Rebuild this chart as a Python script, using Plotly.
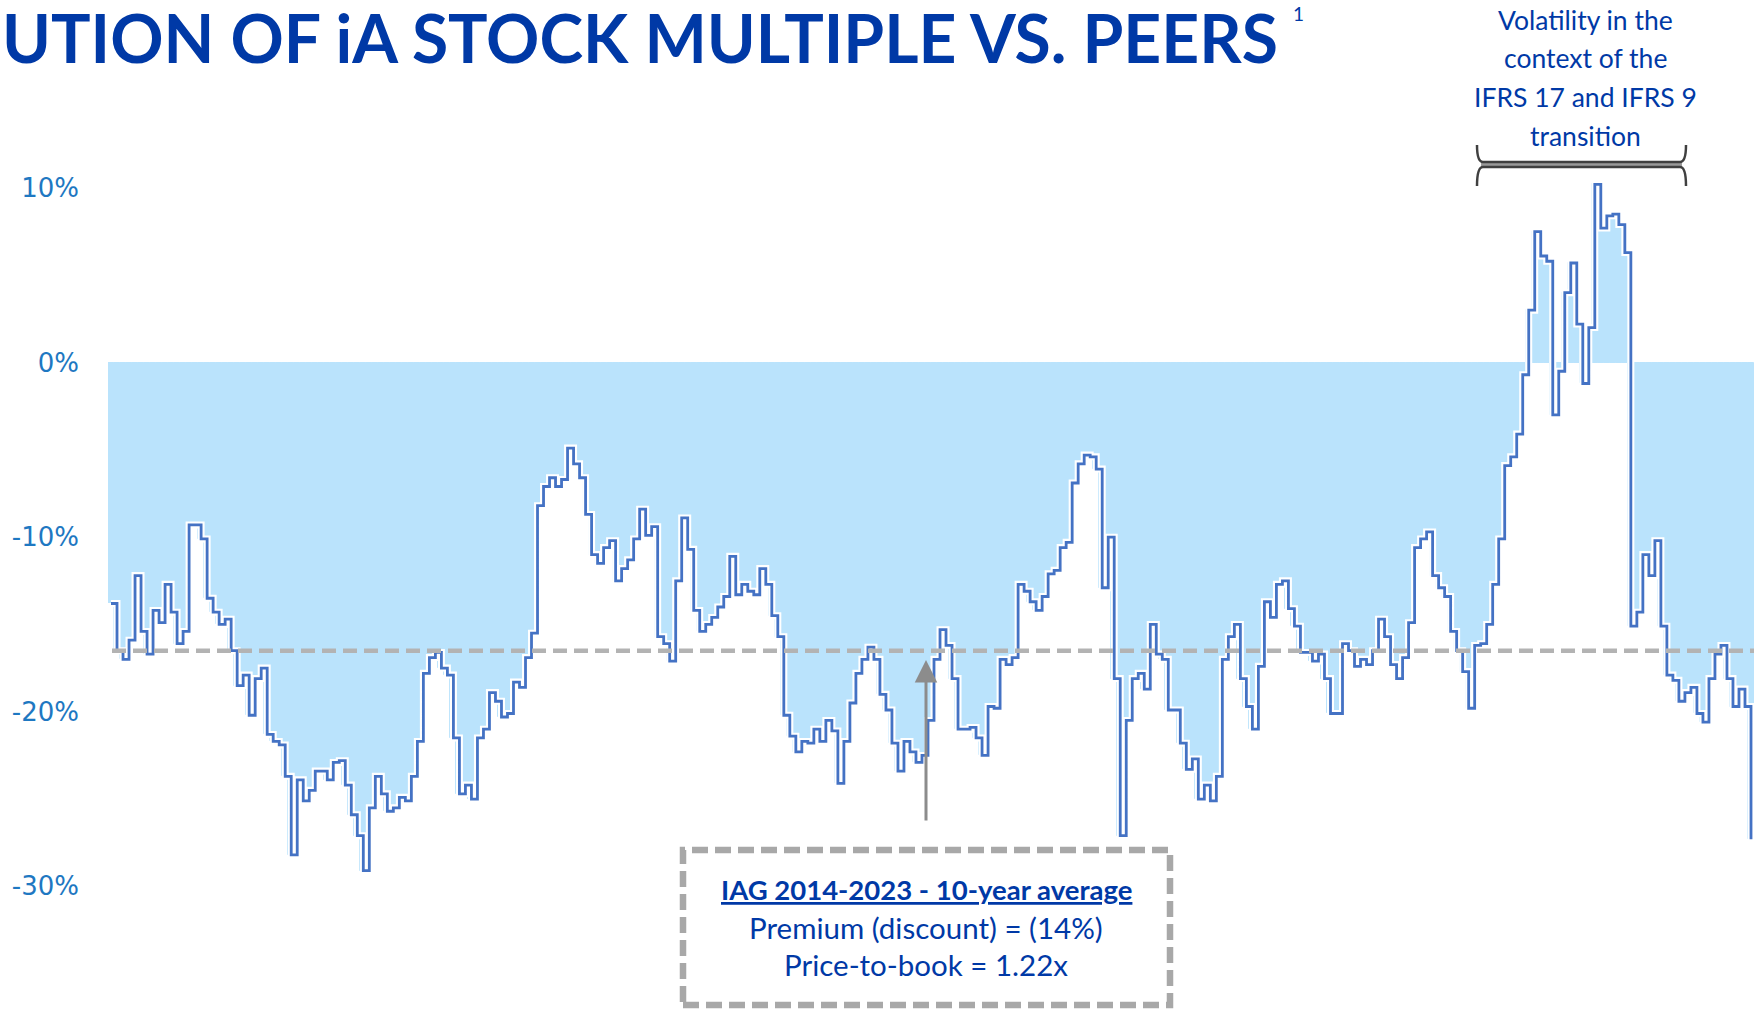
import plotly.graph_objects as go

# ---------------- data ----------------
# iA premium (discount) to peers, price-to-book basis, in %
premium_discount_pct = [
    -13.8, -16.5, -17.0, -15.9, -12.2, -15.4, -16.7, -14.2, -14.9, -12.7,
    -14.3, -16.1, -15.4, -9.3, -9.3, -10.1, -13.5, -14.3, -15.0, -14.7,
    -16.5, -18.5, -17.9, -20.2, -18.1, -17.5, -21.3, -21.7, -21.9, -23.7,
    -28.2, -23.9, -25.1, -24.5, -23.4, -23.4, -23.9, -22.9, -22.8, -24.2,
    -25.9, -27.1, -29.1, -25.5, -23.7, -24.7, -25.7, -25.5, -24.9, -25.1,
    -23.7, -21.7, -17.8, -16.9, -16.6,
    -17.5, -17.9, -21.5, -24.7, -24.2, -25.0, -21.5, -21.0, -18.9, -19.4,
    -20.3, -20.1, -18.3, -18.6, -16.9, -15.5, -8.2, -7.1, -6.6, -7.1,
    -6.7, -4.9, -5.8, -6.6, -8.7, -11.0, -11.5, -10.6, -10.2, -12.5,
    -11.8, -11.3, -10.1, -8.4, -9.9, -9.4, -15.7, -16.1, -17.1, -12.5,
    -8.9, -10.7, -14.2, -15.4, -15.0, -14.6, -14.0, -13.4, -11.1, -13.3,
    -12.7, -13.1, -13.3, -11.8, -12.7,
    -14.5, -15.7, -20.2, -21.4, -22.3, -21.7, -21.8, -21.0, -21.7, -20.5,
    -21.1, -24.1, -21.7, -19.5, -17.8, -17.0, -16.3, -17.0, -19.0, -19.9,
    -21.8, -23.4, -21.7, -22.3, -22.9, -22.5, -20.5, -17.0, -15.3, -16.2,
    -18.1, -21.0, -21.0, -20.9, -21.5, -22.5, -19.7, -19.8, -17.0, -17.3,
    -16.9, -12.7, -13.1, -13.7, -14.2, -13.4, -12.1, -11.9, -10.6, -10.3,
    -6.9, -5.8, -5.3, -5.4, -6.1,
    -12.9, -10.0, -18.1, -27.1, -20.5, -18.1, -17.8, -18.7, -15.0, -16.7,
    -17.0, -19.9, -19.9, -21.8, -23.3, -22.7, -25.0, -24.2, -25.1, -23.7,
    -17.0, -15.7, -15.0, -18.1, -19.7, -21.0, -17.4, -13.7, -14.6, -12.7,
    -12.5, -14.1, -15.1, -16.6, -16.6, -17.1, -16.7, -18.1, -20.1, -20.1,
    -16.1, -16.5, -17.4, -17.0, -17.3, -16.5, -14.7, -15.7, -17.3, -18.1,
    -16.9, -14.9, -10.6, -10.1, -9.7,
    -12.2, -12.9, -13.4, -15.4, -16.5, -17.7, -19.8, -16.2, -16.1, -15.0,
    -12.7, -10.1, -5.9, -5.4, -4.1, -0.7, 3.0, 7.5, 6.1, 5.8,
    -3.0, -0.5, 4.0, 5.7, 2.2, -1.2, 2.0, 10.2, 7.7, 8.4,
    8.5, 7.9, 6.3, -15.1, -14.3, -11.0, -12.2, -10.2, -15.1, -17.9,
    -18.2, -19.4, -18.9, -18.6, -20.1, -20.6, -18.1, -16.7, -16.2, -18.1,
    -19.7, -18.7, -19.7, -27.3,
]
avg_line_pct = -16.5
y_tick_values = [10, 0, -10, -20, -30]
y_tick_labels = ["10%", "0%", "-10%", "-20%", "-30%"]

title_text = "UTION OF iA STOCK MULTIPLE VS. PEERS"
note_lines = ["Volatility in the", "context of the", "IFRS 17 and IFRS 9", "transition"]
box_title = "IAG 2014-2023 - 10-year average"
box_lines = ["Premium (discount) = (14%)", "Price-to-book = 1.22x"]

# ---------------- layout geometry ----------------
W, H = 1754, 1012
ML, MR, MT, MB = 108, 0, 153, 82
PW, PH = W - ML - MR, H - MT - MB


def px(x):
    return (x - ML) / PW


def py(y):
    return (H - MB - y) / PH


N = len(premium_discount_pct)
xs = list(range(N))

FILL = "#BAE3FC"
LINE = "#4472C4"
DARKBLUE = "#0039A6"
TICKBLUE = "#1E78C2"

fig = go.Figure()
fig.add_trace(go.Bar(x=xs, y=premium_discount_pct, width=1.0,
                     marker=dict(color=FILL, line=dict(color=FILL, width=1)),
                     hoverinfo="skip"))
fig.add_trace(go.Scatter(x=xs, y=premium_discount_pct, mode="lines",
                         line=dict(color="white", width=7, shape="hv"),
                         hoverinfo="skip"))
fig.add_trace(go.Scatter(x=xs, y=premium_discount_pct, mode="lines",
                         line=dict(color=LINE, width=2.8, shape="hv")))

shapes = []
# average dashed line
shapes.append(dict(type="line", xref="paper", yref="y", x0=px(112), x1=1.0,
                   y0=avg_line_pct, y1=avg_line_pct,
                   line=dict(color="#B3B3B3", width=4.5, dash="14px,7px")))
# dashed box
shapes.append(dict(type="rect", xref="paper", yref="paper",
                   x0=px(683), x1=px(1170), y0=py(1005), y1=py(850),
                   fillcolor="white",
                   line=dict(color="#A8A8A8", width=6.5, dash="16px,7px")))
# bracket
bx0, bx1 = 1477, 1686
top_path = (f"M {px(bx0)},{py(145)} Q {px(bx0)},{py(162)} {px(bx0+6)},{py(162)} "
            f"L {px(bx1-6)},{py(162)} Q {px(bx1)},{py(162)} {px(bx1)},{py(145)}")
bot_path = (f"M {px(bx0)},{py(186)} Q {px(bx0)},{py(167)} {px(bx0+6)},{py(167)} "
            f"L {px(bx1-6)},{py(167)} Q {px(bx1)},{py(167)} {px(bx1)},{py(186)}")
shapes.append(dict(type="line", xref="paper", yref="paper",
                   x0=px(bx0 + 4), x1=px(bx1 - 4), y0=py(164.5), y1=py(164.5),
                   line=dict(color="#9A9A9A", width=3)))
for pth in (top_path, bot_path):
    shapes.append(dict(type="path", xref="paper", yref="paper", path=pth,
                       line=dict(color="#404040", width=2.5)))

ann = []
ann.append(dict(text=f"<b>{title_text}</b>", xref="paper", yref="paper",
                x=px(0), y=py(38), xanchor="left", yanchor="middle",
                showarrow=False, font=dict(family="Lato", size=66, color=DARKBLUE)))
ann.append(dict(text="1", xref="paper", yref="paper", x=px(1298), y=py(13),
                xanchor="center", yanchor="middle", showarrow=False,
                font=dict(family="Lato", size=19, color=DARKBLUE)))
for i, t in enumerate(note_lines):
    ann.append(dict(text=t, xref="paper", yref="paper", x=px(1585),
                    y=py(20 + 38.5 * i), xanchor="center", yanchor="middle",
                    showarrow=False, font=dict(family="Lato", size=26.5, color=DARKBLUE)))
ann.append(dict(text=f"<u><b>{box_title}</b></u>", xref="paper", yref="paper",
                x=px(926), y=py(889), xanchor="center", yanchor="middle",
                showarrow=False, font=dict(family="Lato", size=27.5, color=DARKBLUE)))
for i, t in enumerate(box_lines):
    ann.append(dict(text=t, xref="paper", yref="paper", x=px(926),
                    y=py(927 + 37.5 * i), xanchor="center", yanchor="middle",
                    showarrow=False, font=dict(family="Lato", size=29.5, color=DARKBLUE)))
# arrow
ann.append(dict(text="", xref="paper", yref="paper", x=px(926), y=py(660),
                ax=0, ay=162, showarrow=True, arrowhead=2, arrowsize=1.5,
                arrowwidth=3, arrowcolor="#8C8C8C", standoff=0))

fig.update_layout(
    width=W, height=H,
    margin=dict(l=ML, r=MR, t=MT, b=MB, pad=0),
    paper_bgcolor="white", plot_bgcolor="white",
    bargap=0, showlegend=False,
    xaxis=dict(range=[-0.5, N - 0.5], visible=False, fixedrange=True),
    yaxis=dict(range=[-32.5, 12], tickvals=y_tick_values, ticktext=y_tick_labels,
               showgrid=False, zeroline=False, showline=False, ticks="",
               ticklabelstandoff=28, fixedrange=True,
               tickfont=dict(family="DejaVu Sans", size=26, color=TICKBLUE)),
    shapes=shapes, annotations=ann,
)

fig.write_html(
    "out.html",
    config={"displayModeBar": False},
    post_script="document.body.style.margin='0px';document.body.style.overflow='hidden';",
)
